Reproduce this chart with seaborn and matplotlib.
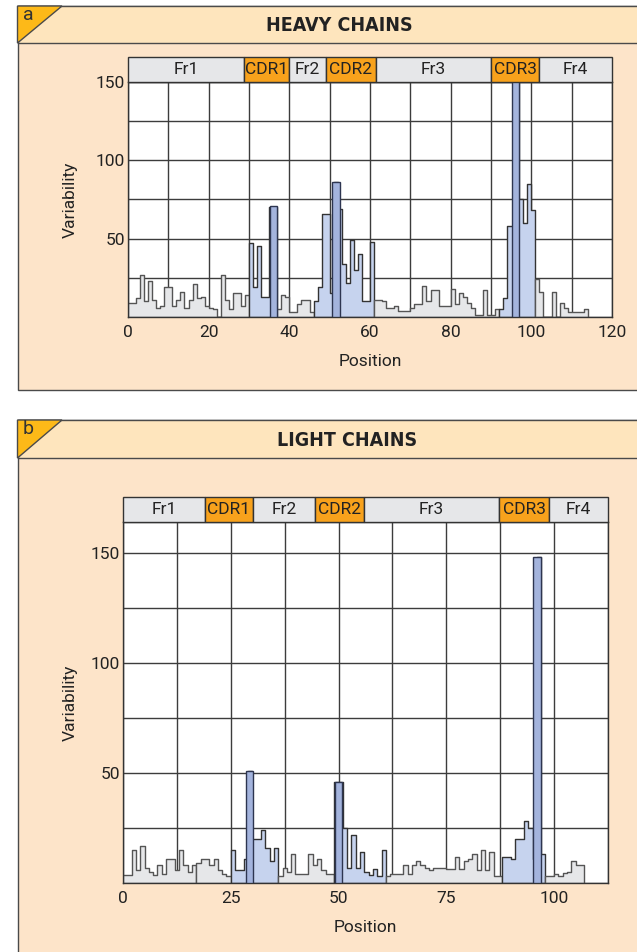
import numpy as np
import pandas as pd
import matplotlib
matplotlib.use('Agg')
import matplotlib.pyplot as plt
import seaborn as sns
from matplotlib.patches import Rectangle, Polygon
from matplotlib.ticker import MultipleLocator, FixedLocator
from matplotlib import font_manager

W, H = 637, 952

# variability per position (one bin per residue position)
heavy_var = [9, 9, 12, 27, 10, 23, 11, 6, 7, 19, 19, 7, 11, 16, 6, 11, 21, 12, 13, 7, 6, 5,
             0, 27, 11, 5, 15, 15, 7, 14,
             47, 19, 45, 13, 13, 70, 70,
             5, 14, 13, 3, 3, 8, 11, 11, 3,
             10, 19, 66, 66, 15, 86, 69, 34, 22, 49, 30, 40, 10, 10, 48,
             11, 11, 10, 6, 6, 7, 4, 4, 4, 6, 8, 8, 20, 10, 17, 17, 7, 7, 7, 18,
             8, 15, 13, 9, 6, 1, 1, 17, 1, 1, 5,
             5, 12, 58, 58, 150, 75, 60, 85, 68,
             24, 16, 0, 0, 16, 0, 9, 6, 3, 3, 3, 3, 5]
light_var = [3.5, 3.5, 15, 6, 17, 7, 5, 3.5, 8, 4, 11, 11, 6, 15, 8, 5, 8,
             9, 11, 11, 8, 11, 6, 4, 3,
             15, 6, 6, 11, 51, 20, 20, 24, 16, 10, 16,
             3, 7, 5, 13, 4, 4, 4, 13, 8, 11, 6, 4, 4,
             46, 46, 25, 7, 22, 7, 14, 5, 3.5, 6.5, 3, 15,
             3, 4, 4, 4, 8, 4, 8, 10, 8, 7, 6, 7, 7, 7, 6.5, 6.5, 12, 6.5, 10, 11,
             13, 6, 15, 6, 14, 3, 3,
             12, 12, 11, 20, 20, 28, 25, 11, 148, 13,
             3, 3, 4, 3, 4.5, 5, 10, 8, 8]

# (kind, first position, last position)
heavy_segments = [('fr', 0, 21), ('fr', 22, 29), ('cdr', 30, 36), ('fr', 37, 45),
                  ('cdr', 46, 60), ('fr', 61, 91), ('cdr', 92, 100), ('fr', 101, 113)]
light_segments = [('fr', 0, 16), ('fr', 17, 24), ('cdr', 25, 35), ('fr', 36, 48),
                  ('cdr', 49, 60), ('fr', 61, 87), ('cdr', 88, 97), ('fr', 98, 106)]

# hypervariable peaks (darker bars)
heavy_peak_pos = [36.0, 51.6, 96.1]
heavy_peak_val = [71, 86, 160]
light_peak_pos = [29.3, 50.0, 96.0]
light_peak_val = [51, 46, 148]

region_labels = ['Fr1', 'CDR1', 'Fr2', 'CDR2', 'Fr3', 'CDR3', 'Fr4']
heavy_region_edges = [0, 28.8, 40, 49, 61.5, 90, 102, 120]
light_region_edges = [0, 19.0, 30.1, 44.5, 55.8, 87.3, 98.9, 112.5]

BODY = '#FDE4C9'
BAND = '#FEE5BD'
TRI = '#FDB918'
EDGE = '#4a4a4a'
CDR_ORANGE = '#F8A21C'
FR_GRAY = '#E6E7E9'
CDR_BLUE = '#C6D3EE'
PEAK_BLUE = '#A4B4DD'
GRID = '#3c3c3c'
TXT = '#222222'

sns.set_theme(style='white')
plt.rcParams['font.family'] = ['Roboto', 'DejaVu Sans']
plt.rcParams['font.weight'] = 'normal'

# a condensed bold face for the panel titles, if one is installed
title_prop = None
for f in font_manager.fontManager.ttflist:
    if f.name in ('Liberation Sans Narrow', 'DejaVu Sans') and f.stretch == 'condensed' \
            and f.weight in ('bold', 700):
        title_prop = font_manager.FontProperties(fname=f.fname, size=14)
        break
if title_prop is None:
    title_prop = font_manager.FontProperties(family='Roboto', weight='bold', size=13)

fig = plt.figure(figsize=(W / 100, H / 100), dpi=100)
fig.patch.set_facecolor('white')
bg = fig.add_axes([0, 0, 1, 1])
bg.set_xlim(0, W)
bg.set_ylim(H, 0)
bg.axis('off')


def px_rect(l, t, r, b):
    return [l / W, 1 - b / H, (r - l) / W, (b - t) / H]


def draw_frame(top, band_bottom, bottom, letter, title, title_x):
    bg.add_patch(Rectangle((17.5, top), 700, bottom - top, fc=BODY, ec=EDGE, lw=1))
    bg.add_patch(Rectangle((17.5, top), 700, band_bottom - top, fc=BAND, ec=EDGE, lw=1))
    bg.add_patch(Polygon([(17.5, top), (62, top), (17.5, band_bottom)], closed=True,
                         fc=TRI, ec=EDGE, lw=1))
    bg.text(28, top + 9, letter, ha='center', va='center', fontsize=14, color='#333333')
    bg.text(title_x, (top + band_bottom) / 2 + 1, title, ha='center', va='center',
            fontproperties=title_prop, color='#222222')


def draw_chart(ax, hax, var, segments, peak_pos, peak_val, peak_w, edges, xmax, ymax,
               xmajor, xminor):
    pos = np.arange(len(var))
    df = pd.DataFrame({'pos': pos + 0.5, 'var': var})
    for kind, start, end in segments:
        sub = df[(pos >= start) & (pos <= end)]
        sns.histplot(data=sub, x='pos', weights='var', binwidth=1, binrange=(start, end + 1),
                     element='step', fill=True, alpha=1,
                     color=CDR_BLUE if kind == 'cdr' else FR_GRAY,
                     edgecolor='#333333' if kind == 'cdr' else '#555555',
                     linewidth=1, ax=ax)
    ax.bar(peak_pos, peak_val, width=peak_w, color=PEAK_BLUE, edgecolor='#2d3550',
           linewidth=1, zorder=3)
    ax.set_xlim(0, xmax)
    ax.set_ylim(0, ymax)
    ax.set_facecolor('white')
    ax.set_axisbelow(True)
    ax.xaxis.set_major_locator(MultipleLocator(xmajor))
    ax.xaxis.set_minor_locator(MultipleLocator(xminor))
    ax.yaxis.set_major_locator(FixedLocator([50, 100, 150]))
    ax.yaxis.set_minor_locator(MultipleLocator(25))
    ax.grid(which='both', color=GRID, linewidth=1)
    ax.tick_params(which='both', length=0, labelsize=12.5, colors=TXT)
    ax.tick_params(axis='x', pad=6)
    ax.tick_params(axis='y', pad=2)
    for s in ax.spines.values():
        s.set_color('#333333')
        s.set_linewidth(1)
    ax.set_xlabel('Position', fontsize=12.5, color=TXT, va='center')
    ax.set_ylabel('Variability', fontsize=12.5, color=TXT, va='center')

    hax.set_xlim(0, xmax)
    hax.set_ylim(0, 1)
    hax.axis('off')
    for lab, x0, x1 in zip(region_labels, edges[:-1], edges[1:]):
        hax.add_patch(Rectangle((x0, 0), x1 - x0, 1, fc=CDR_ORANGE if lab.startswith('CDR') else FR_GRAY,
                                ec='#333333', lw=1, clip_on=False))
        hax.text((x0 + x1) / 2, 0.5, lab, ha='center', va='center', fontsize=12.5, color=TXT)


# panel a
draw_frame(6, 43, 390, 'a', 'HEAVY CHAINS', 339)
ax_a = fig.add_axes(px_rect(128, 82, 612, 317))
hax_a = fig.add_axes(px_rect(128, 57, 612, 82))
draw_chart(ax_a, hax_a, heavy_var, heavy_segments, heavy_peak_pos, heavy_peak_val, 1.8,
           heavy_region_edges, 120, 150, 20, 10)
ax_a.xaxis.set_label_coords(0.5, (317 - 362) / 235)
ax_a.yaxis.set_label_coords((70 - 128) / 484, 0.5)

# panel b
draw_frame(420, 458, 960, 'b', 'LIGHT CHAINS', 347)
ax_b = fig.add_axes(px_rect(123, 522, 608, 883))
hax_b = fig.add_axes(px_rect(123, 497, 608, 522))
draw_chart(ax_b, hax_b, light_var, light_segments, light_peak_pos, light_peak_val, 1.7,
           light_region_edges, 112.5, 164, 25, 12.5)
ax_b.xaxis.set_label_coords(0.5, (883 - 928) / 361)
ax_b.yaxis.set_label_coords((70 - 123) / 485, 0.5)

fig.savefig('out.png', dpi=100)
